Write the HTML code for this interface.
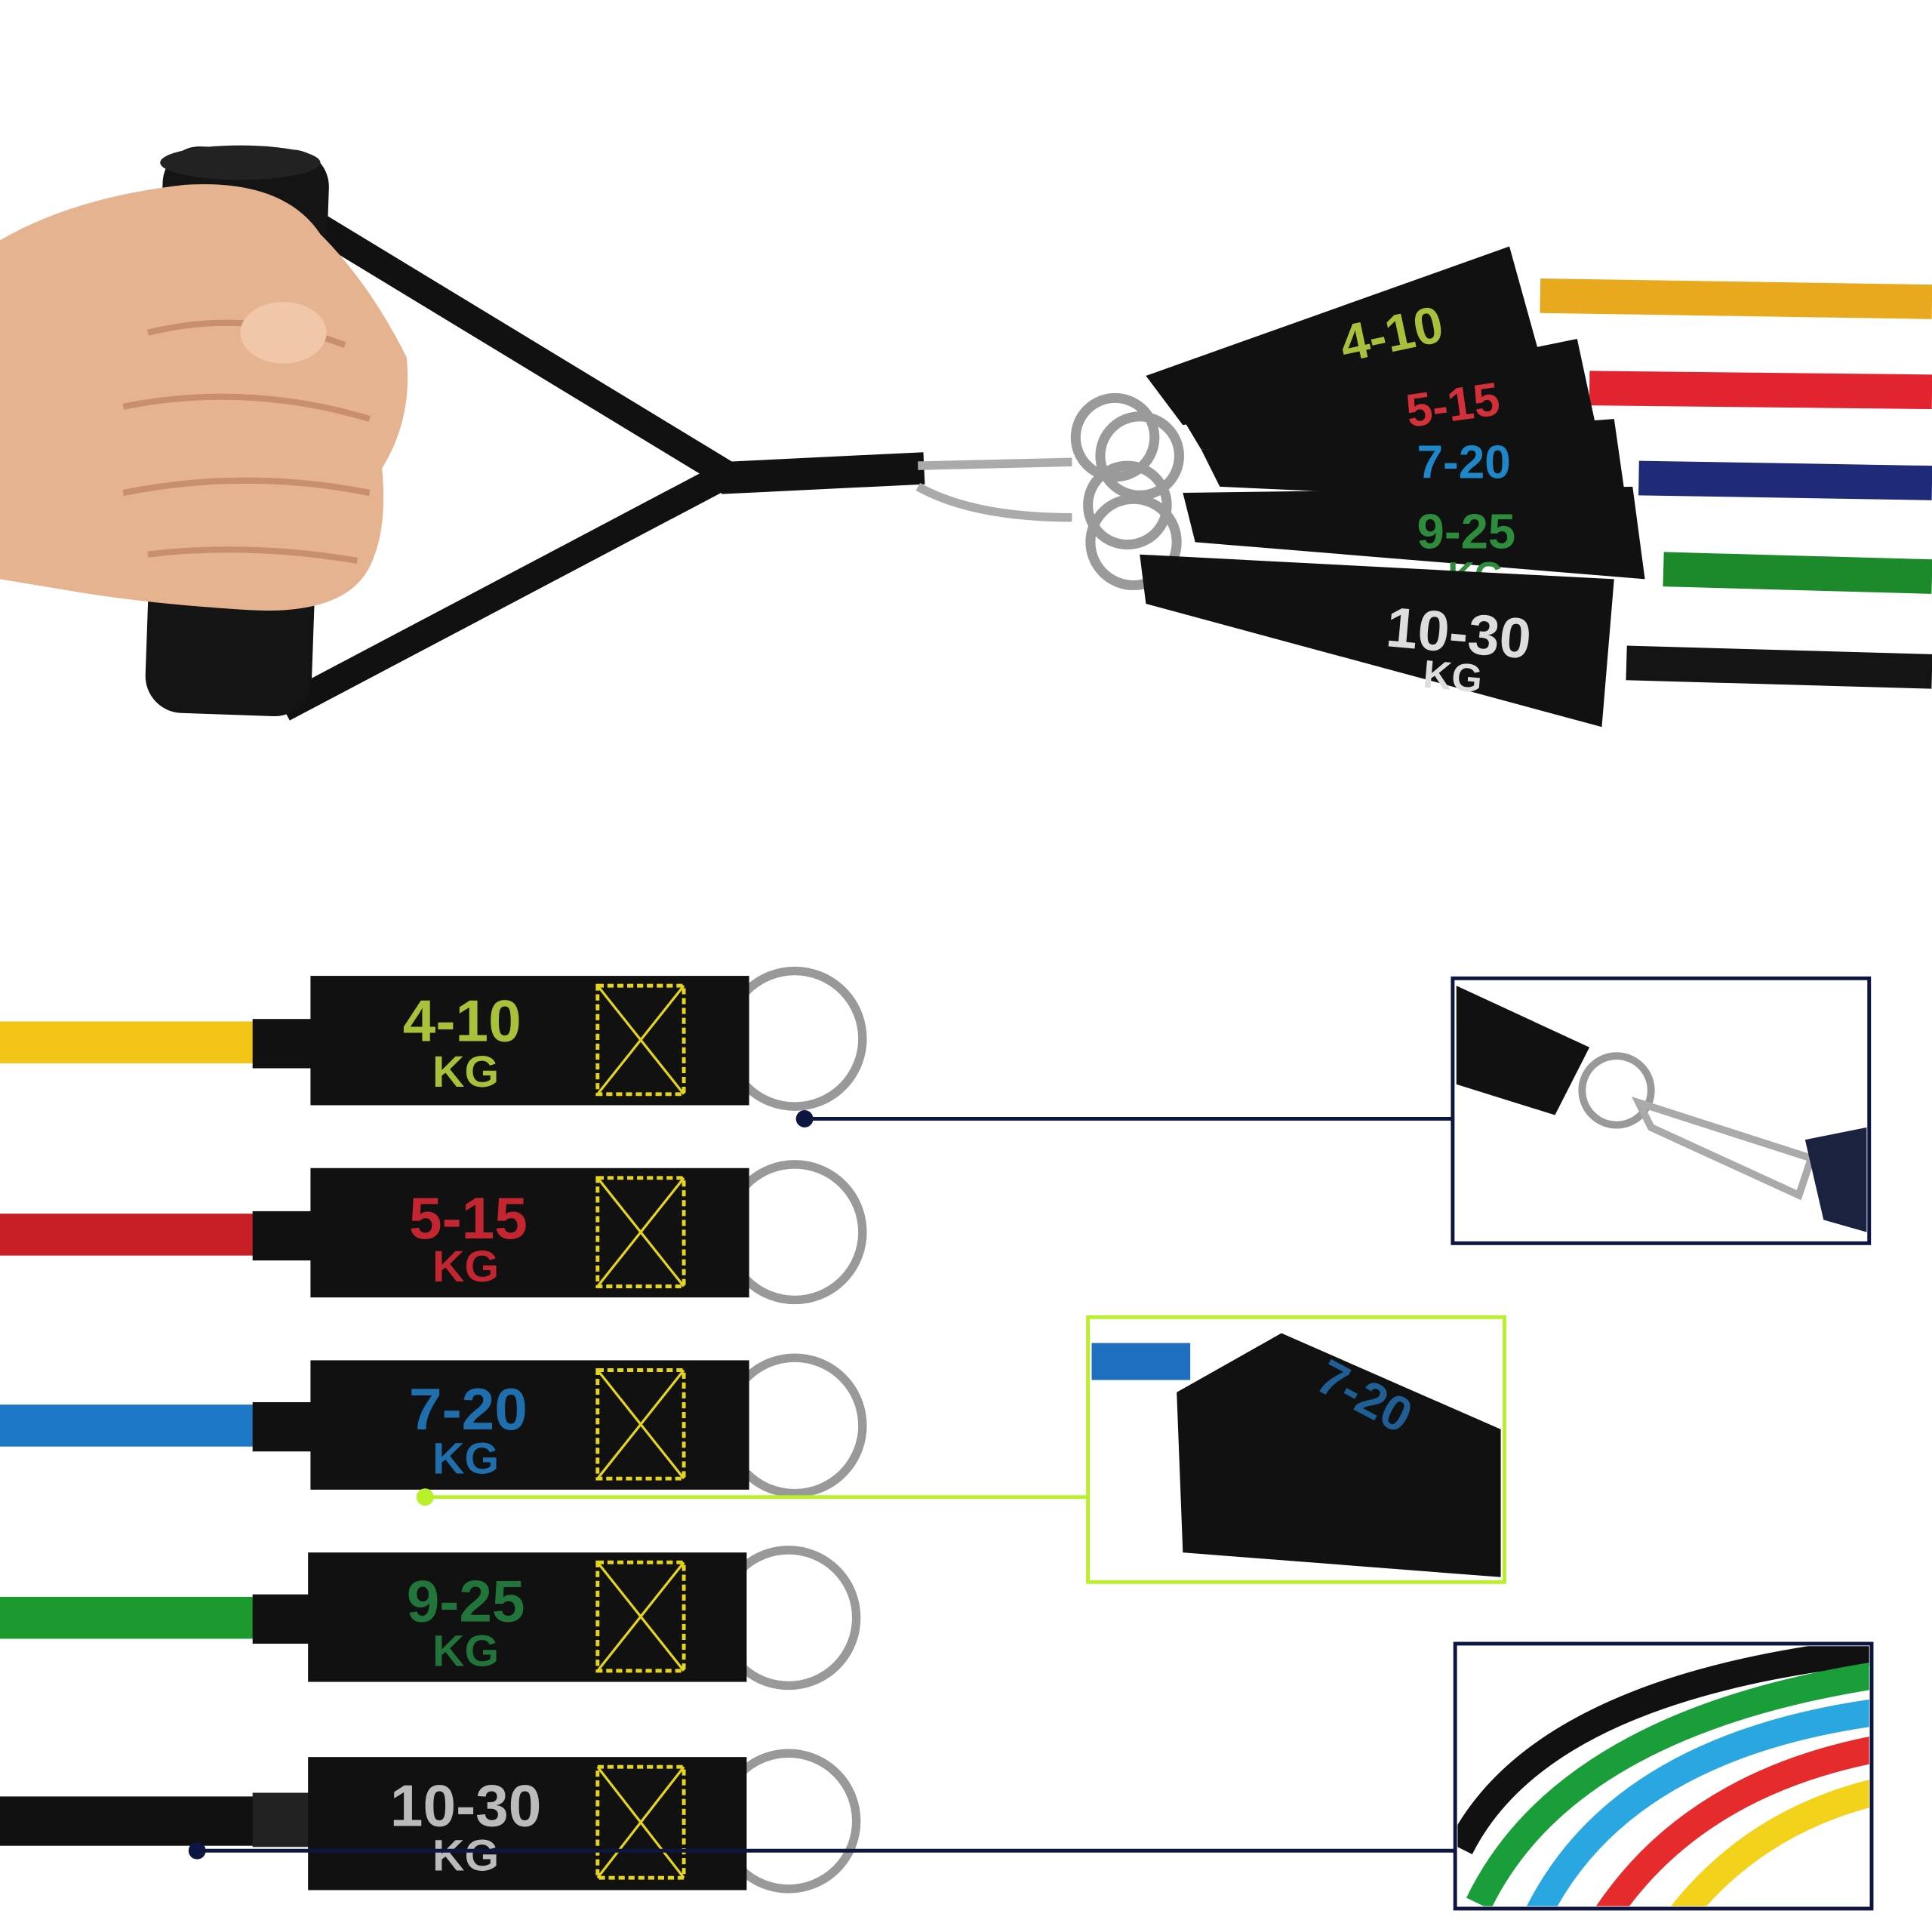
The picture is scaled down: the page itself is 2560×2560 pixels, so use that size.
<!DOCTYPE html>
<html><head><meta charset="utf-8"><style>html,body{margin:0;padding:0;background:#fff}svg{display:block}</style></head>
<body>
<svg width="2560" height="2560" viewBox="0 0 1568 1568" xmlns="http://www.w3.org/2000/svg" font-family="Liberation Sans, sans-serif" font-weight="bold">
<rect width="1568" height="1568" fill="#fff"/>
<!-- TOP: handle & straps -->
<path d="M170 130 L590 385 L230 575" fill="none" stroke="#111" stroke-width="22" stroke-linejoin="round"/>
<path d="M585 388 L750 380" stroke="#111" stroke-width="26"/>
<rect x="125" y="120" width="135" height="460" rx="30" fill="#141414" transform="rotate(2 190 350)"/>
<ellipse cx="195" cy="132" rx="65" ry="14" fill="#222"/>
<!-- hand -->
<path d="M0 195 Q60 160 150 150 Q230 145 260 190 Q300 230 330 290 Q335 340 310 380 Q315 430 300 460 Q280 500 200 495 Q120 490 60 480 L0 470 Z" fill="#e6b391"/>
<path d="M120 270 Q200 250 280 280 M100 330 Q200 310 300 340 M100 400 Q200 380 300 400 M120 450 Q200 440 290 455" stroke="#c98e6c" stroke-width="5" fill="none"/>
<ellipse cx="230" cy="270" rx="35" ry="25" fill="#f0c7a9"/>
<!-- carabiner -->
<path d="M745 378 L870 375 M745 395 Q790 420 870 420" stroke="#aaa" stroke-width="7" fill="none"/>
<!-- rings -->
<g fill="none" stroke="#9a9a9a" stroke-width="8">
<circle cx="905" cy="355" r="32"/><circle cx="925" cy="370" r="32"/><circle cx="915" cy="410" r="32"/><circle cx="920" cy="440" r="35"/>
</g>
<!-- tubes top -->
<g stroke-width="28" stroke-linecap="butt">
<line x1="1250" y1="240" x2="1568" y2="245" stroke="#e8a91e"/>
<line x1="1290" y1="315" x2="1568" y2="318" stroke="#e1242f"/>
<line x1="1330" y1="388" x2="1568" y2="392" stroke="#1f2a78"/>
<line x1="1350" y1="462" x2="1568" y2="468" stroke="#1c8a2a"/>
<line x1="1320" y1="538" x2="1568" y2="545" stroke="#141414"/>
</g>
<!-- top tags -->
<g>
<polygon points="930,305 1225,200 1250,290 960,345" fill="#111"/>
<text x="1085" y="285" font-size="42" fill="#a7c23a" transform="rotate(-12 1130 260)">4-10</text>
<polygon points="960,340 1280,275 1295,345 975,365" fill="#111"/>
<text x="1140" y="340" font-size="38" fill="#d4303a" transform="rotate(-8 1190 320)">5-15</text>
<polygon points="975,365 1310,340 1320,410 990,395" fill="#111"/>
<text x="1150" y="388" font-size="38" fill="#1f86c9">7-20</text>
<polygon points="960,400 1325,395 1335,470 970,440" fill="#111"/>
<text x="1150" y="445" font-size="40" fill="#2e8d3c">9-25</text>
<text x="1175" y="477" font-size="30" fill="#2e8d3c">KG</text>
<polygon points="925,450 1310,470 1300,590 930,490" fill="#111"/>
<text x="1125" y="530" font-size="46" fill="#ddd" transform="rotate(5 1190 515)">10-30</text>
<text x="1155" y="560" font-size="32" fill="#ddd" transform="rotate(5 1180 550)">KG</text>
</g>
<!-- BOTTOM rows -->
<g id="rows">
<!-- row template drawn 5 times -->
<g>
<rect x="0" y="829" width="210" height="34" fill="#f2c416"/><rect x="205" y="827" width="50" height="40" fill="#111"/>
<circle cx="645" cy="843" r="55" fill="none" stroke="#999" stroke-width="7"/>
<rect x="252" y="792" width="356" height="105" fill="#111"/>
<rect x="485" y="800" width="70" height="88" fill="none" stroke="#e5d41e" stroke-width="3" stroke-dasharray="5 3"/>
<path d="M485 800 L555 888 M555 800 L485 888" stroke="#e5d41e" stroke-width="2"/>
<text x="375" y="845" font-size="48" fill="#a7c23a" text-anchor="middle">4-10</text>
<text x="378" y="882" font-size="36" fill="#a7c23a" text-anchor="middle">KG</text>
</g>
<g>
<rect x="0" y="985" width="210" height="34" fill="#c81f27"/><rect x="205" y="983" width="50" height="40" fill="#111"/>
<circle cx="645" cy="1000" r="55" fill="none" stroke="#999" stroke-width="7"/>
<rect x="252" y="948" width="356" height="105" fill="#111"/>
<rect x="485" y="956" width="70" height="88" fill="none" stroke="#e5d41e" stroke-width="3" stroke-dasharray="5 3"/>
<path d="M485 956 L555 1044 M555 956 L485 1044" stroke="#e5d41e" stroke-width="2"/>
<text x="380" y="1005" font-size="48" fill="#c42631" text-anchor="middle">5-15</text>
<text x="378" y="1040" font-size="36" fill="#c42631" text-anchor="middle">KG</text>
</g>
<g>
<rect x="0" y="1140" width="210" height="34" fill="#1e78c8"/><rect x="205" y="1138" width="50" height="40" fill="#111"/>
<circle cx="645" cy="1157" r="55" fill="none" stroke="#999" stroke-width="7"/>
<rect x="252" y="1104" width="356" height="105" fill="#111"/>
<rect x="485" y="1112" width="70" height="88" fill="none" stroke="#e5d41e" stroke-width="3" stroke-dasharray="5 3"/>
<path d="M485 1112 L555 1200 M555 1112 L485 1200" stroke="#e5d41e" stroke-width="2"/>
<text x="380" y="1160" font-size="48" fill="#1f6fae" text-anchor="middle">7-20</text>
<text x="378" y="1196" font-size="36" fill="#1f6fae" text-anchor="middle">KG</text>
</g>
<g>
<rect x="0" y="1296" width="210" height="34" fill="#1c9a2e"/><rect x="205" y="1294" width="50" height="40" fill="#111"/>
<circle cx="640" cy="1313" r="55" fill="none" stroke="#999" stroke-width="7"/>
<rect x="250" y="1260" width="356" height="105" fill="#111"/>
<rect x="485" y="1268" width="70" height="88" fill="none" stroke="#e5d41e" stroke-width="3" stroke-dasharray="5 3"/>
<path d="M485 1268 L555 1356 M555 1268 L485 1356" stroke="#e5d41e" stroke-width="2"/>
<text x="378" y="1316" font-size="48" fill="#21753a" text-anchor="middle">9-25</text>
<text x="378" y="1352" font-size="36" fill="#21753a" text-anchor="middle">KG</text>
</g>
<g>
<rect x="0" y="1458" width="210" height="40" fill="#111"/><rect x="205" y="1455" width="50" height="44" fill="#222"/>
<circle cx="640" cy="1478" r="55" fill="none" stroke="#999" stroke-width="7"/>
<rect x="250" y="1426" width="356" height="108" fill="#111"/>
<rect x="485" y="1434" width="70" height="90" fill="none" stroke="#e5d41e" stroke-width="3" stroke-dasharray="5 3"/>
<path d="M485 1434 L555 1524 M555 1434 L485 1524" stroke="#e5d41e" stroke-width="2"/>
<text x="378" y="1482" font-size="48" fill="#bbb" text-anchor="middle">10-30</text>
<text x="378" y="1518" font-size="36" fill="#bbb" text-anchor="middle">KG</text>
</g>
</g>
<!-- callout lines -->
<line x1="653" y1="908" x2="1178" y2="908" stroke="#0d1640" stroke-width="3"/>
<circle cx="653" cy="908" r="7" fill="#0d1640"/>
<line x1="345" y1="1215" x2="882" y2="1215" stroke="#b8f02a" stroke-width="3"/>
<circle cx="345" cy="1215" r="7" fill="#b8f02a"/>
<line x1="160" y1="1502" x2="1180" y2="1502" stroke="#0d1640" stroke-width="3"/>
<circle cx="160" cy="1502" r="7" fill="#0d1640"/>
<!-- box 1 -->
<rect x="1179" y="794" width="338" height="215" fill="#fff" stroke="#0d1640" stroke-width="3"/>
<polygon points="1182,800 1290,850 1262,905 1182,880" fill="#111"/>
<circle cx="1312" cy="885" r="28" fill="none" stroke="#999" stroke-width="6"/>
<path d="M1330 895 L1470 940 L1460 970 L1340 915 Z" fill="none" stroke="#aaa" stroke-width="6"/>
<polygon points="1465,925 1515,915 1515,1000 1480,990" fill="#1a2240"/>
<!-- box 2 -->
<rect x="883" y="1069" width="338" height="215" fill="#fff" stroke="#b8f02a" stroke-width="3"/>
<rect x="886" y="1090" width="80" height="30" fill="#1e6fc0"/>
<polygon points="955,1130 1040,1082 1218,1160 1218,1280 960,1260" fill="#111"/>
<text x="1060" y="1150" font-size="40" fill="#1f5f95" transform="rotate(28 1110 1150)">7-20</text>
<!-- box 3 -->
<rect x="1181" y="1334" width="338" height="215" fill="#fff" stroke="#0d1640" stroke-width="3"/>
<clipPath id="c3"><rect x="1183" y="1336" width="334" height="211"/></clipPath>
<g clip-path="url(#c3)" fill="none" stroke-width="22">
<path d="M1185 1500 Q1250 1370 1520 1340" stroke="#111"/>
<path d="M1200 1545 Q1270 1400 1520 1360" stroke="#1a9e3a"/>
<path d="M1245 1560 Q1310 1420 1520 1390" stroke="#2aa7e0"/>
<path d="M1300 1560 Q1370 1450 1520 1420" stroke="#e52b2b"/>
<path d="M1360 1560 Q1420 1480 1520 1455" stroke="#f3d21c"/>
</g>
</svg>
</body></html>
